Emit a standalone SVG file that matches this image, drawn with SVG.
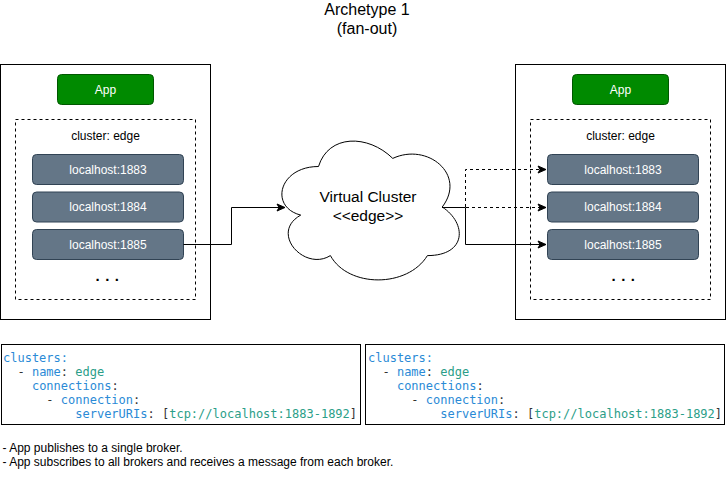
<svg xmlns="http://www.w3.org/2000/svg" width="726" height="480" viewBox="0 0 726 480">
<style>
.t{font-family:"Liberation Sans",Arial,sans-serif;fill:#000}
.c{text-anchor:middle}
.box{fill:#fff;stroke:#000;stroke-width:1}
.dbox{fill:none;stroke:#000;stroke-width:1;stroke-dasharray:3 3}
.app{fill:#008a00;stroke:#005700;stroke-width:1}
.host{fill:#647687;stroke:#314354;stroke-width:1}
.w{fill:#fff;font-size:12px}
.dots{font-size:15px;font-weight:bold;letter-spacing:5.5px}
.code{font-family:"DejaVu Sans Mono",Menlo,monospace;font-size:12px;fill:#333}
.k{fill:#2a8ad6}
.s{fill:#2b9e88}
.e{fill:none;stroke:#000;stroke-width:1}
.dash{stroke-dasharray:3 3}
</style>
<defs>
<marker id="arr" markerUnits="userSpaceOnUse" markerWidth="10" markerHeight="10" refX="8" refY="4" orient="auto" overflow="visible">
<path d="M0,0.5 L8,4 L0,7.5 L2,4 Z" fill="#000" stroke="#000" stroke-width="1"/>
</marker>
</defs>

<g id="title">
<text class="t c" x="367" y="15" font-size="16">Archetype 1</text>
<text class="t c" x="367" y="34" font-size="16">(fan-out)</text>
</g>

<g id="left-host">
<rect class="box" x="0.5" y="64.5" width="210" height="255"/>
</g>
<g id="left-app">
<rect class="app" x="57.5" y="74.5" width="96" height="30" rx="4"/>
<text class="t c w" x="105.5" y="93.5">App</text>
</g>
<g id="left-cluster">
<rect class="dbox" x="15.5" y="119.5" width="180" height="180"/>
<text class="t c" x="105.5" y="139.5" font-size="12">cluster: edge</text>
<text class="t c dots" x="110" y="281">...</text>
</g>
<g id="left-1883">
<rect class="host" x="32.5" y="154.5" width="151" height="30" rx="4"/>
<text class="t c w" x="108" y="173.5">localhost:1883</text>
</g>
<g id="left-1884">
<rect class="host" x="32.5" y="192" width="151" height="30" rx="4"/>
<text class="t c w" x="108" y="211">localhost:1884</text>
</g>
<g id="left-1885">
<rect class="host" x="32.5" y="229.5" width="151" height="30" rx="4"/>
<text class="t c w" x="108" y="248.5">localhost:1885</text>
</g>

<g id="virtual-cluster">
<path d="M 318.5 166.5 C 278.9 166.5 269 207 300.7 215.1 C 269 232.9 304.6 271.8 330.4 255.6 C 348.2 288 407.6 288 427.4 255.6 C 467 255.6 467 223.2 442.25 207 C 467 174.6 427.4 142.2 392.75 158.4 C 368 134.1 328.4 134.1 318.5 166.5 Z" fill="#fff" stroke="#000" stroke-width="1"/>
<text class="t c" x="368" y="202" font-size="15.5">Virtual Cluster</text>
<text class="t c" x="368" y="221" font-size="15.5">&lt;&lt;edge&gt;&gt;</text>
</g>

<g id="right-host">
<rect class="box" x="515.5" y="64.5" width="210" height="255"/>
</g>
<g id="right-app">
<rect class="app" x="572.5" y="74.5" width="96" height="30" rx="4"/>
<text class="t c w" x="620.5" y="93.5">App</text>
</g>
<g id="right-cluster">
<rect class="dbox" x="530.5" y="119.5" width="180" height="180"/>
<text class="t c" x="620.5" y="139.5" font-size="12">cluster: edge</text>
<text class="t c dots" x="626" y="281">...</text>
</g>
<g id="right-1883">
<rect class="host" x="547.5" y="154.5" width="151" height="30" rx="4"/>
<text class="t c w" x="623" y="173.5">localhost:1883</text>
</g>
<g id="right-1884">
<rect class="host" x="547.5" y="192" width="151" height="30" rx="4"/>
<text class="t c w" x="623" y="211">localhost:1884</text>
</g>
<g id="right-1885">
<rect class="host" x="547.5" y="229.5" width="151" height="30" rx="4"/>
<text class="t c w" x="623" y="248.5">localhost:1885</text>
</g>

<g id="connectors">
<path class="e" d="M183.5 244.5 H231.5 V207.5 H285" marker-end="url(#arr)"/>
<path class="e dash" d="M442 207.5 H465.5 V169.5 H546" marker-end="url(#arr)"/>
<path class="e dash" d="M442 207.5 H546" marker-end="url(#arr)"/>
<path class="e" d="M442 207.5 H465.5 V244.5 H546" marker-end="url(#arr)"/>
</g>

<g id="left-code">
<rect class="box" x="1.5" y="344.5" width="359" height="80"/>
<text class="code" xml:space="preserve" x="3" y="361.5"><tspan class="k">clusters:</tspan></text>
<text class="code" xml:space="preserve" x="3" y="375.7">  - <tspan class="k">name</tspan>: <tspan class="s">edge</tspan></text>
<text class="code" xml:space="preserve" x="3" y="389.9">    <tspan class="k">connections</tspan>:</text>
<text class="code" xml:space="preserve" x="3" y="404.1">      - <tspan class="k">connection</tspan>:</text>
<text class="code" xml:space="preserve" x="3" y="418.3">          <tspan class="k">serverURIs</tspan>: [<tspan class="s">tcp://localhost:1883-1892</tspan>]</text>
</g>

<g id="right-code">
<rect class="box" x="365.5" y="344.5" width="359" height="80"/>
<text class="code" xml:space="preserve" x="368" y="361.5"><tspan class="k">clusters:</tspan></text>
<text class="code" xml:space="preserve" x="368" y="375.7">  - <tspan class="k">name</tspan>: <tspan class="s">edge</tspan></text>
<text class="code" xml:space="preserve" x="368" y="389.9">    <tspan class="k">connections</tspan>:</text>
<text class="code" xml:space="preserve" x="368" y="404.1">      - <tspan class="k">connection</tspan>:</text>
<text class="code" xml:space="preserve" x="368" y="418.3">          <tspan class="k">serverURIs</tspan>: [<tspan class="s">tcp://localhost:1883-1892</tspan>]</text>
</g>

<g id="notes">
<text class="t" x="2.5" y="452" font-size="12">- App publishes to a single broker.</text>
<text class="t" x="2.5" y="466" font-size="12">- App subscribes to all brokers and receives a message from each broker.</text>
</g>
</svg>
